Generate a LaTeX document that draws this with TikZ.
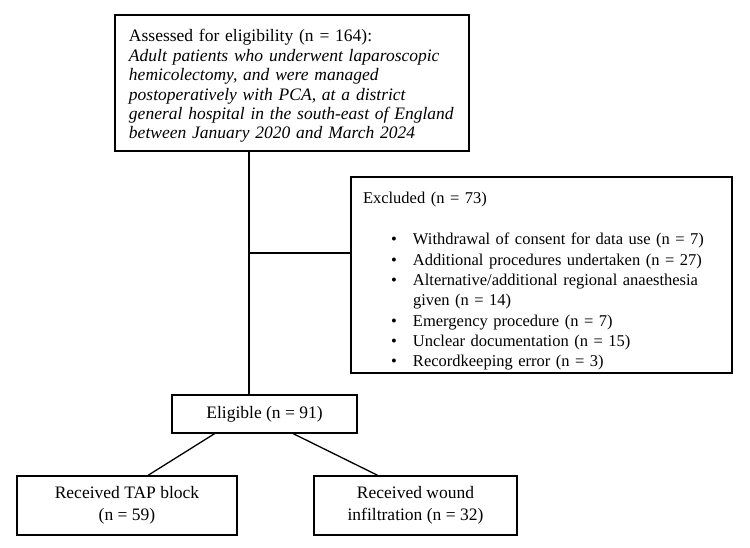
\documentclass[tikz,border=0pt]{standalone}
\usepackage{fontspec}
\setmainfont{Liberation Serif}
\usetikzlibrary{calc}
\begin{document}
\begin{tikzpicture}[x=1bp,y=-1bp,
  box/.style={draw,line width=1.3bp,inner sep=0pt},
  txt/.style={font=\fontsize{17.5bp}{19.4bp}\selectfont},
  twoline/.style={font=\fontsize{17.5bp}{21.5bp}\selectfont},
  small/.style={font=\fontsize{16.5bp}{20.3bp}\selectfont},
  conn/.style={line width=1.3bp}]
\useasboundingbox (0,0) rectangle (750,548);
\node[box,txt,minimum width=354bp,minimum height=136bp,text width=326bp,align=left] (top) at (292,83)
 {\rule{0pt}{18.5bp}Assessed for eligibility (n = 164):\\
 \textit{Adult patients who underwent laparoscopic}\\
 \textit{hemicolectomy, and were managed}\\
 \textit{postoperatively with PCA, at a district}\\
 \textit{general hospital in the south-east of England}\\
 \textit{between January 2020 and March 2024}};
\node[box,small,minimum width=381bp,minimum height=196bp,text width=357bp,align=left] (excl) at (541.5,275)
 {\rule{0pt}{24bp}Excluded (n = 73)\\[20.7bp]
 \hspace*{28bp}\makebox[22bp][l]{\textbullet}Withdrawal of consent for data use (n = 7)\\
 \hspace*{28bp}\makebox[22bp][l]{\textbullet}Additional procedures undertaken (n = 27)\\
 \hspace*{28bp}\makebox[22bp][l]{\textbullet}Alternative/additional regional anaesthesia\\
 \hspace*{50bp}given (n = 14)\\
 \hspace*{28bp}\makebox[22bp][l]{\textbullet}Emergency procedure (n = 7)\\
 \hspace*{28bp}\makebox[22bp][l]{\textbullet}Unclear documentation (n = 15)\\
 \hspace*{28bp}\makebox[22bp][l]{\textbullet}Recordkeeping error (n = 3)};
\node[box,txt,minimum width=185bp,minimum height=38bp] (elig) at (264.5,414) {Eligible (n = 91)};
\node[box,twoline,minimum width=220bp,minimum height=59bp,align=center] (tap) at (127,505.5) {Received TAP block\\(n = 59)};
\node[box,twoline,minimum width=203bp,minimum height=59bp,align=center] (wound) at (415.5,505.5) {Received wound\\infiltration (n = 32)};
\coordinate (j) at (249,253);
\draw[conn] (top.south -| j) -- (elig.north -| j);
\draw[conn] (j) -- (excl.west |- j);
\draw[conn] ($(elig.south west)!0.232!(elig.south east)$) -- ($(tap.north west)!0.595!(tap.north east)$);
\draw[conn] ($(elig.south west)!0.654!(elig.south east)$) -- ($(wound.north west)!0.315!(wound.north east)$);
\end{tikzpicture}
\end{document}
